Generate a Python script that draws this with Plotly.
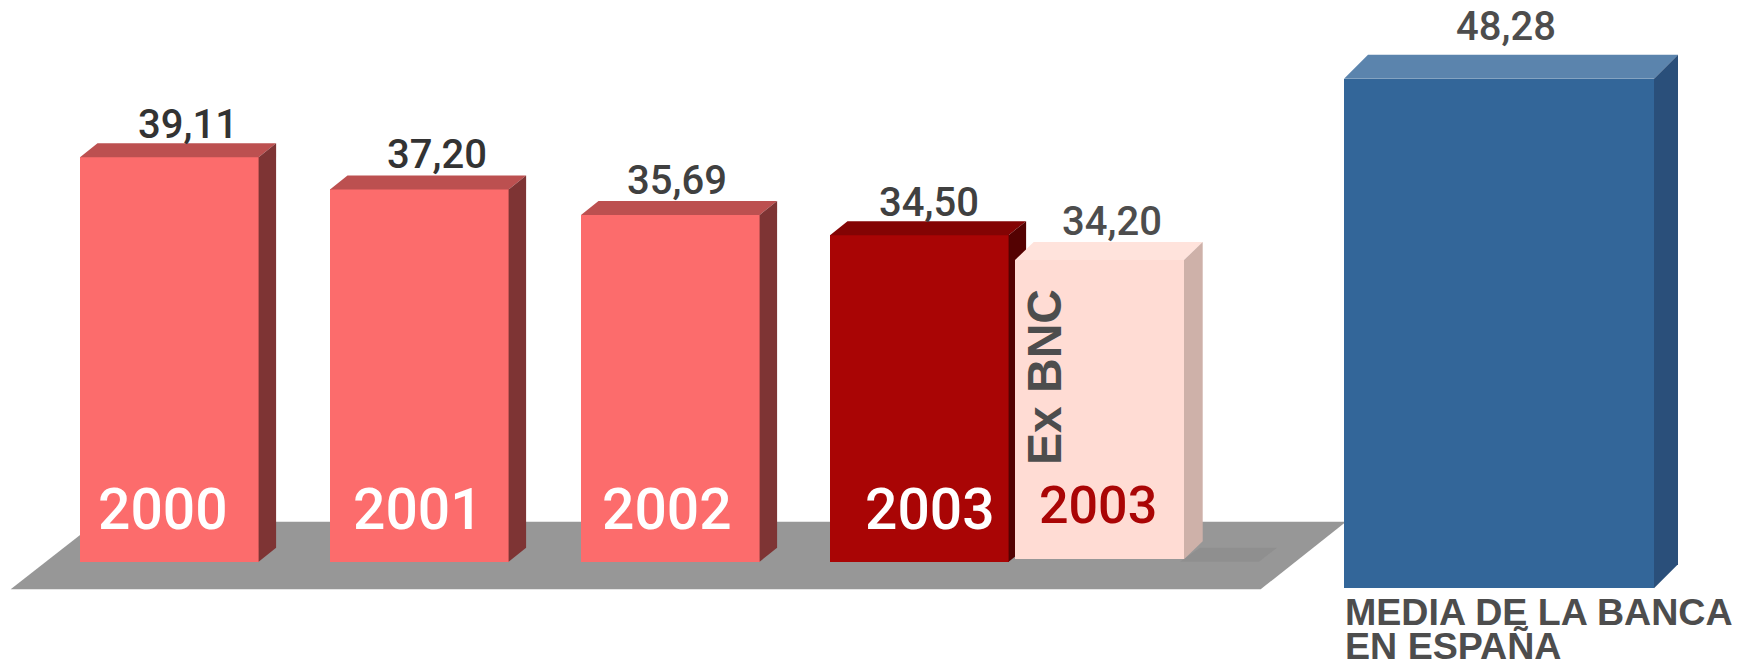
import plotly.graph_objects as go

W, H = 1749, 664

# values
years = ["2000", "2001", "2002", "2003"]
bancaja = [39.11, 37.20, 35.69, 34.50]
ex_bnc_year = "2003"
ex_bnc = [34.20]
media_banca = [48.28]

# layout of the boxes, in page pixels
bar_left = [80, 330, 581, 830]
bar_width = 178.6
light_left = 1015
light_width = 169
blue_left = 1344
blue_width = 310

RED = ("#fc6c6c", "#bc5050", "#7e3434")
DARK = ("#a90505", "#830404", "#540202")
LIGHT = ("#ffdcd4", "#ffe3dc", "#ceb1a9")
BLUE = ("#336699", "#5b84ad", "#2a4f7a")
GREY_TEXT = "#4d4d4d"


def axis_range(base, bottom_px, px_per_unit):
    # y range for an axis filling the page, so base sits on bottom_px
    return [base - (H - bottom_px) / px_per_unit, base + bottom_px / px_per_unit]


# three pictures glued together, each with its own scale
MAIN = dict(base=15.2, bottom=561.7, scale=16.92, axis="y")
PALE = dict(base=0, bottom=559.3, scale=8.75, axis="y2")
MEAN = dict(base=0, bottom=588.3, scale=10.555, axis="y3")


def box(fig, left, width, value, ax, depth_x, depth_y, colors, name):
    front, top, side = colors
    right = left + width
    up = depth_y / ax["scale"]
    # front face is a real bar, top and side are polygons on the same axis
    fig.add_trace(go.Bar(x=[left + width / 2], y=[value - ax["base"]], base=ax["base"],
                         width=width, marker=dict(color=front, line=dict(width=0)),
                         yaxis=ax["axis"], name=name, showlegend=False))
    fig.add_trace(go.Scatter(x=[left, left + depth_x, right + depth_x, right, left],
                             y=[value, value + up, value + up, value, value],
                             fill="toself", fillcolor=top, mode="none",
                             yaxis=ax["axis"], showlegend=False))
    fig.add_trace(go.Scatter(x=[right, right + depth_x, right + depth_x, right, right],
                             y=[value, value + up, ax["base"] + up, ax["base"], value],
                             fill="toself", fillcolor=side, mode="none",
                             yaxis=ax["axis"], showlegend=False))


fig = go.Figure()

for i, year in enumerate(years):
    box(fig, bar_left[i], bar_width, bancaja[i], MAIN, 17.5, 14,
        DARK if year == "2003" else RED, year)
box(fig, light_left, light_width, ex_bnc[0], PALE, 18.7, 18, LIGHT, "Ex BNC")
box(fig, blue_left, blue_width, media_banca[0], MEAN, 24, 24, BLUE, "Media")


def value_label(x, value, ax, lift, color):
    yref = ax["axis"]
    fig.add_annotation(x=x, y=value, xref="x", yref=yref, yshift=lift,
                       text=f"{value:.2f}".replace(".", ","), showarrow=False,
                       font=dict(family="Roboto", size=40, color=color, weight=500),
                       xanchor="center", yanchor="middle")


def page_text(text, x, y, size, color, family="Roboto", bold=False, angle=0, anchor="center"):
    fig.add_annotation(x=x, y=1 - y / H, xref="x", yref="paper", text=f"<b>{text}</b>" if bold else text,
                       showarrow=False, textangle=angle, xanchor=anchor, yanchor="middle",
                       font=dict(family=family, size=size, color=color, weight=None if bold else 500))


label_x = [188, 437, 677, 929]
label_lift = [33, 35, 34.5, 33]
label_color = ["#333333", "#333333", "#404040", "#404040"]
year_x = [163, 418, 667, 930]
for i, year in enumerate(years):
    value_label(label_x[i], bancaja[i], MAIN, label_lift[i], label_color[i])
    page_text(year, year_x[i], 509, 57, "white")
value_label(1112, ex_bnc[0], PALE, 39, GREY_TEXT)
value_label(1506, media_banca[0], MEAN, 52.7, GREY_TEXT)
page_text(ex_bnc_year, 1098, 505, 52, "#aa0505")
page_text("Ex BNC", 1045, 377, 48, GREY_TEXT, family="Liberation Sans", bold=True, angle=-90)
page_text("MEDIA DE LA BANCA", 1343, 612, 37.6, GREY_TEXT, family="Liberation Sans", bold=True, anchor="left")
page_text("EN ESPAÑA", 1343, 646, 37.6, GREY_TEXT, family="Liberation Sans", bold=True, anchor="left")


def floor_path(points):
    return "M " + " L ".join(f"{x},{1 - y / H:.5f}" for x, y in points) + " Z"


# grey floor under the bars, and the darker bit of the old chart floor
fig.add_shape(type="path", xref="x", yref="paper", layer="below", line_width=0, fillcolor="#979797",
              path=floor_path([(10.7, 589.3), (1260.7, 589.3), (1346, 521.7), (97, 521.7)]))
fig.add_shape(type="path", xref="x", yref="paper", layer="below", line_width=0, fillcolor="#8f8f8f",
              path=floor_path([(1180, 561.7), (1259, 561.7), (1277, 547.7), (1200, 547.7)]))

hidden = dict(visible=False, fixedrange=True)
fig.update_layout(
    width=W, height=H, margin=dict(l=0, r=0, t=0, b=0),
    paper_bgcolor="white", plot_bgcolor="rgba(0,0,0,0)", showlegend=False, bargap=0,
    barmode="overlay",
    xaxis=dict(range=[0, W], **hidden),
    yaxis=dict(range=axis_range(MAIN["base"], MAIN["bottom"], MAIN["scale"]), **hidden),
    yaxis2=dict(range=axis_range(PALE["base"], PALE["bottom"], PALE["scale"]), overlaying="y", **hidden),
    yaxis3=dict(range=axis_range(MEAN["base"], MEAN["bottom"], MEAN["scale"]), overlaying="y", **hidden),
)

fig.write_html("out.html", config={"displayModeBar": False},
               post_script="document.body.style.margin='0';")
